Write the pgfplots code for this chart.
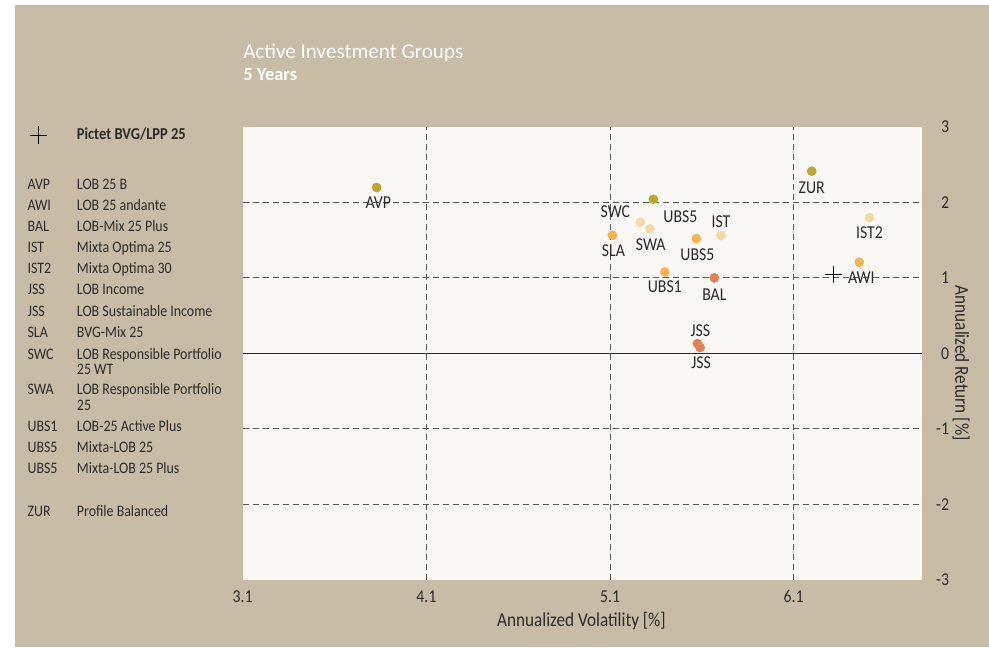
\documentclass[border=0pt]{standalone}
\usepackage{pgfplots}
\pgfplotsset{compat=1.18}
\usepackage{fontspec}
\setmainfont{Carlito}
\newfontfamily\cond{Carlito}[FakeStretch=0.87]

\definecolor{frame}{HTML}{C8BCA6}
\definecolor{plotbg}{HTML}{FAF8F4}
\definecolor{cOlive}{HTML}{BBA82A}
\definecolor{cLight}{HTML}{F3D9A6}
\definecolor{cOrange}{HTML}{FDB24F}
\definecolor{cDark}{HTML}{E2834D}
\definecolor{txt}{HTML}{2A2A2A}
\definecolor{gridc}{HTML}{5A5A5A}

\pgfplotsset{
  dots/.style={only marks, mark=*, mark size=3.4pt, forget plot,
    nodes near coords, point meta=explicit symbolic,
    visualization depends on={\thisrow{dx}\as\dx},
    visualization depends on={\thisrow{dy}\as\dy},
    every node near coord/.append style={anchor=center, inner sep=0pt, text=txt,
      font=\cond\fontsize{13.6}{16}\selectfont,
      xshift=\dx*0.75pt, yshift=\dy*0.75pt}},
}

\begin{document}
\begin{tikzpicture}[x=0.75pt,y=-0.75pt]
\useasboundingbox (0,0) rectangle (989,647);
\fill[white] (0,0) rectangle (989,647);
\fill[frame] (15,5) rectangle (989,647);

% title
\node[anchor=base west, inner sep=0, text=white, font=\fontsize{15.8}{18}\selectfont] at (243,58) {Active Investment Groups};
\node[anchor=base west, inner sep=0, text=white, font=\bfseries\fontsize{13.9}{16}\selectfont] at (243,80) {5 Years};

% key of the codes
\begin{scope}[every node/.style={anchor=base west, inner sep=0, text=txt, font=\cond\fontsize{12}{14}\selectfont}]
\node at (27.3,189.3) {AVP};  \node at (76.7,189.3) {LOB 25 B};
\node at (27.3,210.5) {AWI};  \node at (76.7,210.5) {LOB 25 andante};
\node at (27.3,231.5) {BAL};  \node at (76.7,231.5) {LOB-Mix 25 Plus};
\node at (27.3,252.5) {IST};  \node at (76.7,252.5) {Mixta Optima 25};
\node at (27.3,273.5) {IST2}; \node at (76.7,273.5) {Mixta Optima 30};
\node at (27.3,294.8) {JSS};  \node at (76.7,294.8) {LOB Income};
\node at (27.3,316.0) {JSS};  \node at (76.7,316.0) {LOB Sustainable Income};
\node at (27.3,337.7) {SLA};  \node at (76.7,337.7) {BVG-Mix 25};
\node at (27.3,359.3) {SWC};  \node at (76.7,359.3) {LOB Responsible Portfolio};
                              \node at (76.7,374.0) {25 WT};
\node at (27.3,394.3) {SWA};  \node at (76.7,394.3) {LOB Responsible Portfolio};
                              \node at (76.7,410.0) {25};
\node at (27.3,431.7) {UBS1}; \node at (76.7,431.7) {LOB-25 Active Plus};
\node at (27.3,452.7) {UBS5}; \node at (76.7,452.7) {Mixta-LOB 25};
\node at (27.3,473.3) {UBS5}; \node at (76.7,473.3) {Mixta-LOB 25 Plus};
\node at (27.3,516.0) {ZUR};  \node at (76.7,516.0) {Profile Balanced};
\end{scope}

\begin{axis}[
  at={(181.95pt,-434.7pt)}, anchor=south west,
  width=509.8pt, height=339.45pt, scale only axis,
  xmin=3.1, xmax=6.8, ymin=-3, ymax=3,
  xtick={4.1,5.1,6.1}, ytick={-2,-1,1,2},
  extra x ticks={3.1}, extra y ticks={-3,0,3},
  extra tick style={grid=none},
  grid=major,
  major grid style={dash pattern=on 4.5pt off 3pt, line width=0.75pt, color=gridc},
  axis line style={draw=none},
  tick style={draw=none},
  axis background/.style={fill=plotbg},
  yticklabel pos=right,
  /pgf/number format/assume math mode=true,
  ticklabel style={font=\cond\fontsize{13.6}{16}\selectfont, text=txt, inner sep=0pt},
  xticklabel style={anchor=center, yshift=-12.75pt},
  yticklabel style={anchor=east, xshift=20.25pt},
  xlabel={Annualized Volatility [\%]},
  ylabel={Annualized Return [\%]},
  every axis x label/.style={at={(axis description cs:0.4985,-0.0915)}, anchor=center,
    inner sep=0pt, text=txt, font=\cond\fontsize{14.8}{17}\selectfont},
  every axis y label/.style={at={(axis description cs:1.057,0.478)}, rotate=-90, anchor=center,
    inner sep=0pt, text=txt, font=\cond\fontsize{14.8}{17}\selectfont},
  legend style={at={(axis description cs:-0.3134,0.9823)}, anchor=west,
    draw=none, fill=none, inner sep=0pt, nodes={inner sep=0pt},
    font=\cond\bfseries\fontsize{12.5}{15}\selectfont, text=txt,
    /tikz/every odd column/.append style={column sep=22.3pt}},
  legend image code/.code={\draw[mark=+, mark size=6.5pt, line width=0.6pt] plot coordinates {(0pt,0pt)};},
]

\addplot[line width=0.75pt, color=txt, forget plot] coordinates {(3.1,0) (6.8,0)};

\addplot[dots, color=cOlive] table[meta=lbl] {
x     y     lbl  dx    dy
3.830 2.198 AVP  1.6  -15.4
5.336 2.042 UBS5 27   -17
6.198 2.414 ZUR  0    -16.3
};

\addplot[dots, color=cLight] table[meta=lbl] {
x     y     lbl  dx    dy
5.265 1.737 SWC  -25   11
5.318 1.649 SWA  0.7  -16
5.704 1.561 IST  0     14.3
6.512 1.800 IST2 0    -15.4
};

\addplot[dots, color=cOrange] table[meta=lbl] {
x     y     lbl  dx    dy
5.113 1.565 SLA  1    -15.7
5.570 1.521 UBS5 1    -16
6.457 1.207 AWI  2    -15
5.398 1.078 UBS1 0    -15
};

\addplot[dots, color=cDark] table[meta=lbl] {
x     y     lbl  dx    dy
5.668 0.999 BAL  0    -16.3
5.576 0.128 JSS  3     13
5.590 0.076 JSS  1    -15.4
};

\addplot[only marks, mark=+, mark size=6.5pt, line width=0.6pt, color=black] coordinates {(6.316,1.048)};
\addlegendentry{Pictet BVG/LPP 25}

\end{axis}
\end{tikzpicture}
\end{document}
